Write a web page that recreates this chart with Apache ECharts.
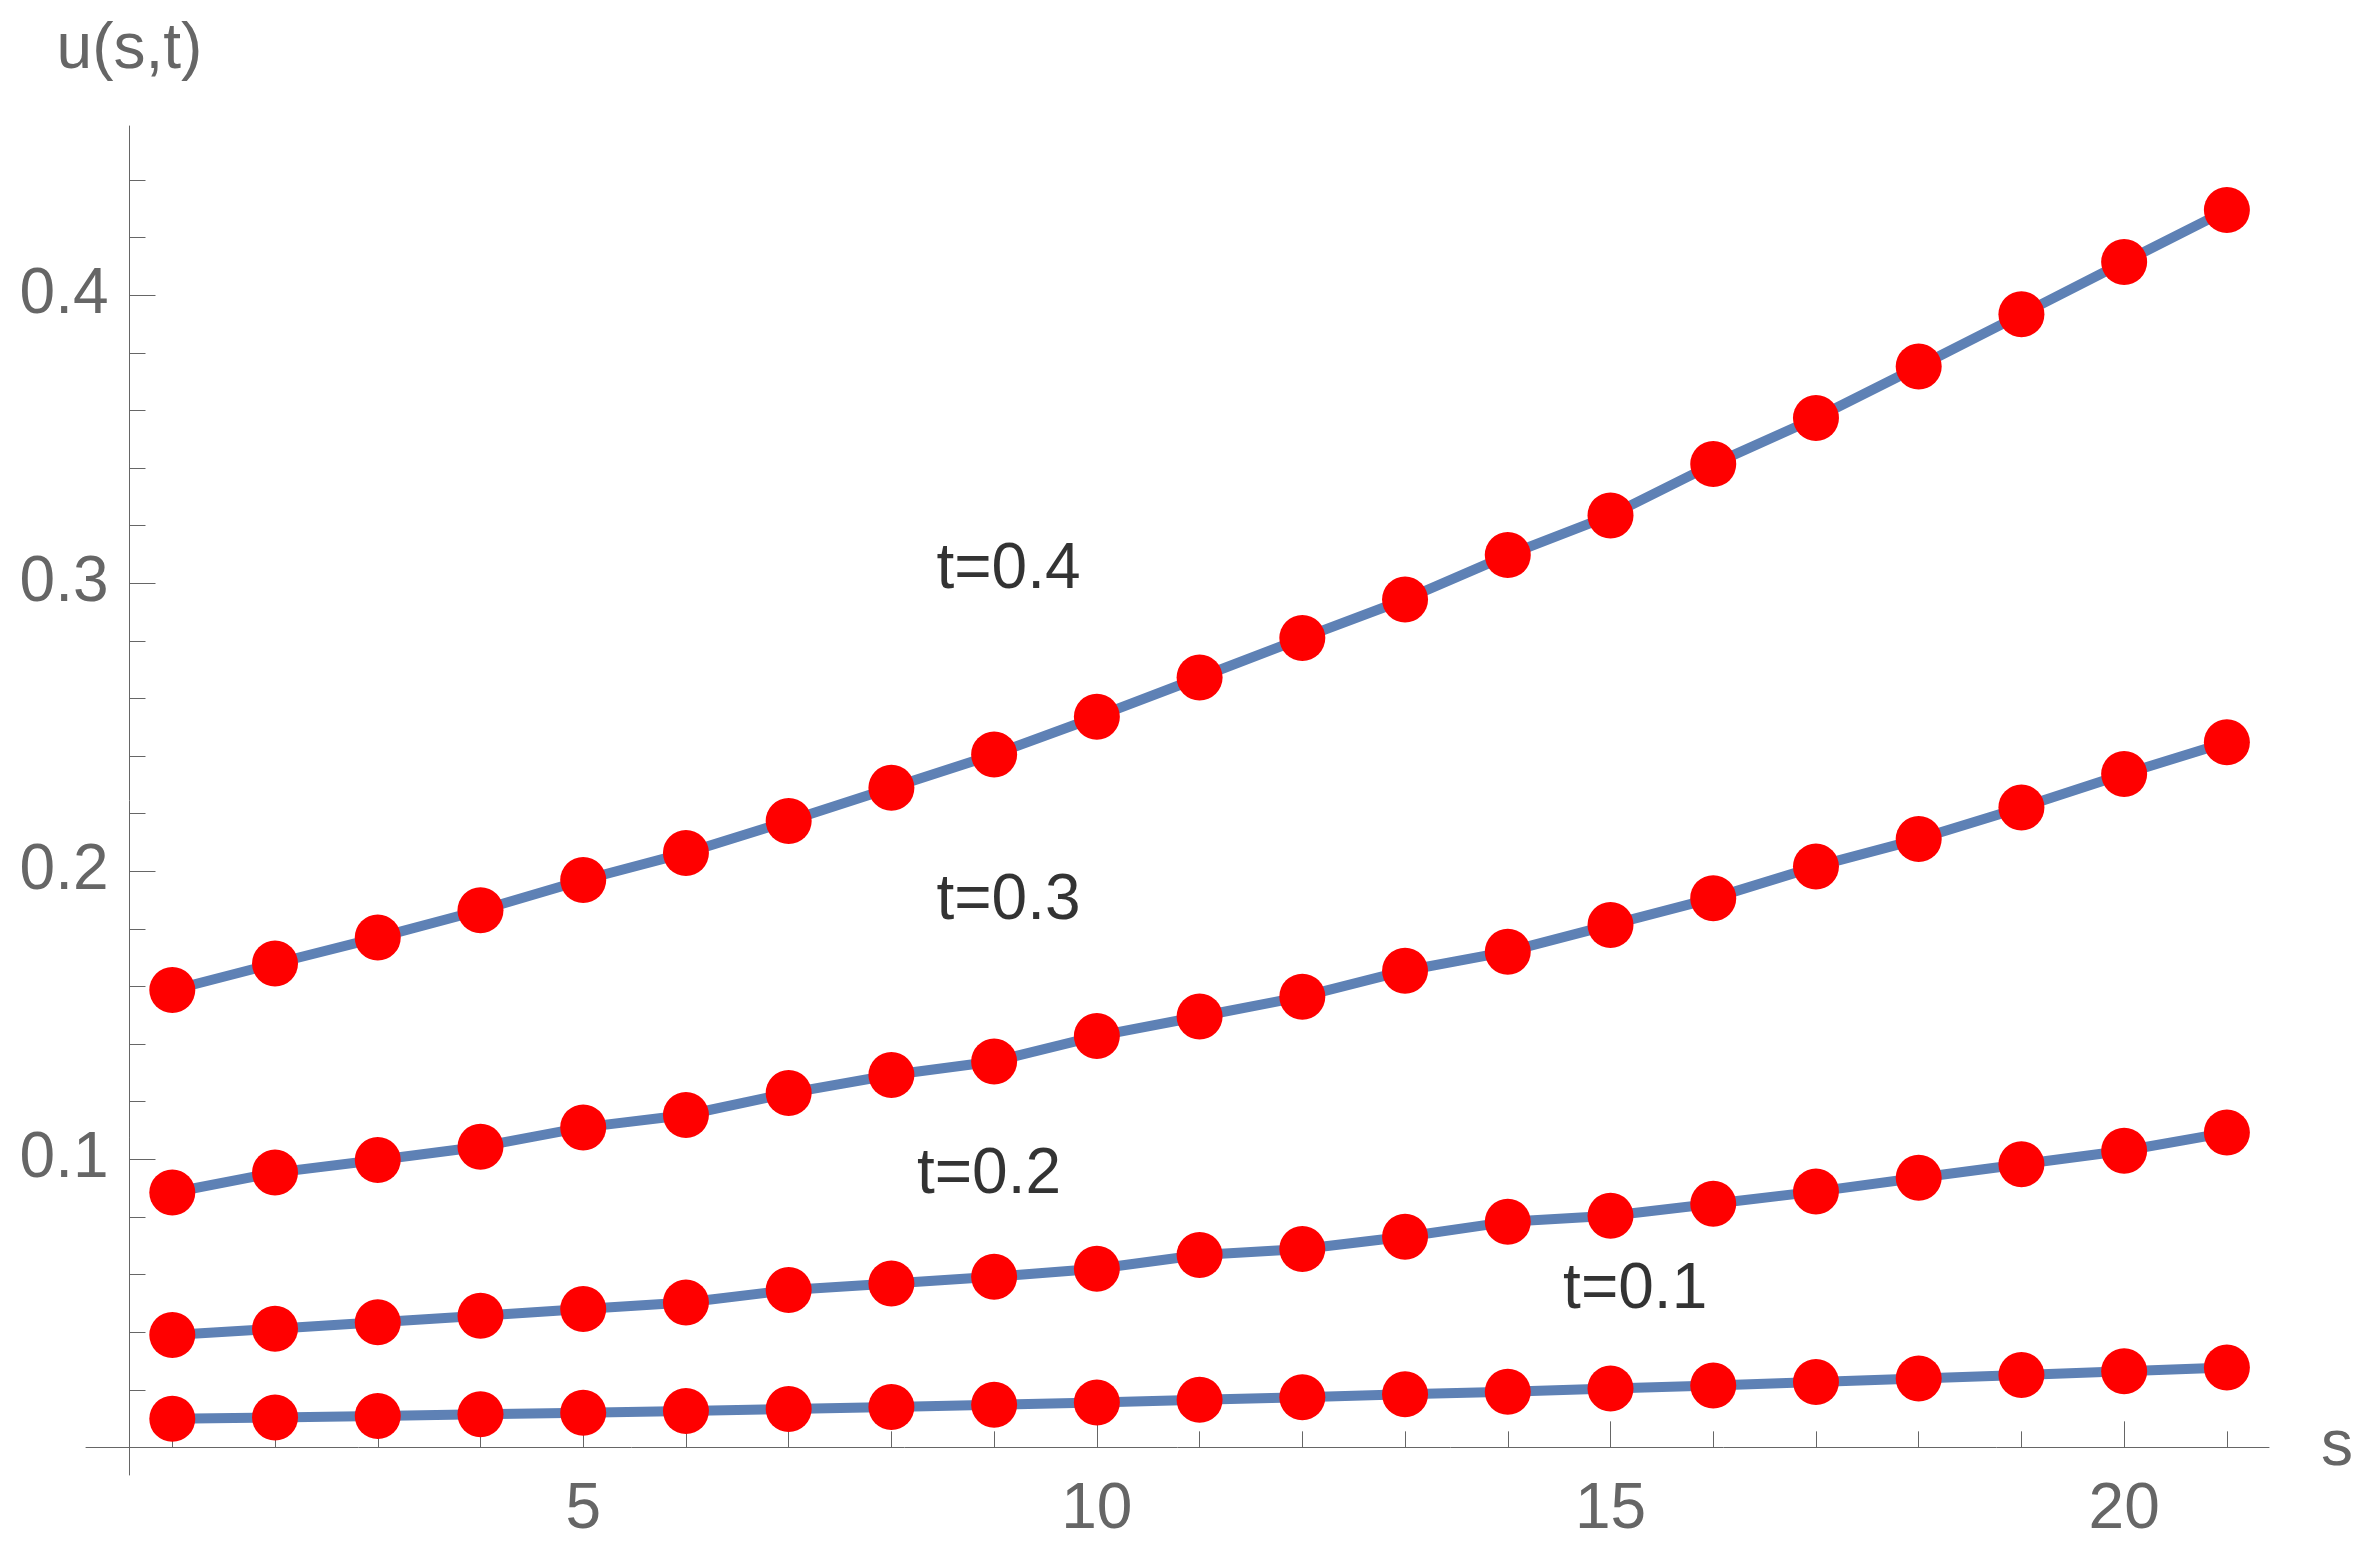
<!DOCTYPE html>
<html>
<head>
<meta charset="utf-8">
<script src="https://cdn.jsdelivr.net/npm/echarts@6/dist/echarts.min.js"></script>
<style>
  html, body { margin: 0; padding: 0; background: #ffffff; }
  #chart { width: 2371px; height: 1560px; }
</style>
</head>
<body>
<div id="chart"></div>
<script>
// ---- data ----
const sValues = [1, 2, 3, 4, 5, 6, 7, 8, 9, 10, 11, 12, 13, 14, 15, 16, 17, 18, 19, 20, 21];
const u_t01 = [0.0099, 0.0104, 0.0109, 0.0115, 0.0120, 0.0126, 0.0133, 0.0140, 0.0148, 0.0156, 0.0165,
               0.0174, 0.0184, 0.0193, 0.0204, 0.0215, 0.0227, 0.0239, 0.0251, 0.0264, 0.0277];
const u_t02 = [0.0390, 0.0412, 0.0434, 0.0457, 0.0480, 0.0503, 0.0546, 0.0569, 0.0592, 0.0620, 0.0668,
               0.0689, 0.0731, 0.0783, 0.0804, 0.0846, 0.0888, 0.0936, 0.0983, 0.1030, 0.1093];
const u_t03 = [0.0885, 0.0954, 0.0998, 0.1044, 0.1111, 0.1154, 0.1230, 0.1293, 0.1340, 0.1428, 0.1496,
               0.1565, 0.1655, 0.1721, 0.1814, 0.1907, 0.2017, 0.2112, 0.2222, 0.2338, 0.2448];
const u_t04 = [0.1588, 0.1680, 0.1770, 0.1865, 0.1970, 0.2064, 0.2175, 0.2290, 0.2406, 0.2537, 0.2673,
               0.2810, 0.2944, 0.3098, 0.3236, 0.3414, 0.3574, 0.3753, 0.3934, 0.4116, 0.4296];

const xMajorTicks = [5, 10, 15, 20];
const xMinorTicks = [1, 2, 3, 4, 5, 6, 7, 8, 9, 10, 11, 12, 13, 14, 15, 16, 17, 18, 19, 20, 21];
const yMajorTicks = [0.1, 0.2, 0.3, 0.4];
const yMinorTicks = [0.02, 0.04, 0.06, 0.08, 0.12, 0.14, 0.16, 0.18, 0.22, 0.24, 0.26, 0.28,
                     0.32, 0.34, 0.36, 0.38, 0.42, 0.44];

const curveLabels = ['t=0.1', 't=0.2', 't=0.3', 't=0.4'];
const curveLabelS = [15.24, 8.95, 9.14, 9.14];
const curveLabelU = [0.0562, 0.0963, 0.1912, 0.3064];

const xName = 's';
const yName = 'u(s,t)';

// ---- chart ----
const X_MIN = 0.16, X_MAX = 21.41;
const Y_MIN = -0.0096, Y_MAX = 0.4588;
const AXIS_COLOR = '#666666';
const FONT = '"Liberation Sans", Arial, sans-serif';
const LINE_COLOR = '#5E81B5';
const DOT_COLOR = '#FF0000';

const curves = [u_t01, u_t02, u_t03, u_t04];

const series = [];
curves.forEach(function (arr) {
  series.push({
    type: 'line',
    data: sValues.map(function (s, i) { return [s, arr[i]]; }),
    showSymbol: false,
    symbol: 'none',
    lineStyle: { color: LINE_COLOR, width: 10 },
    z: 2,
    silent: true
  });
});
curves.forEach(function (arr) {
  series.push({
    type: 'scatter',
    data: sValues.map(function (s, i) { return [s, arr[i]]; }),
    symbol: 'circle',
    symbolSize: 46,
    itemStyle: { color: DOT_COLOR, opacity: 1 },
    z: 3,
    silent: true
  });
});
series.push({
  type: 'scatter',
  data: curveLabels.map(function (t, i) {
    return { value: [curveLabelS[i], curveLabelU[i]], name: t };
  }),
  symbol: 'circle',
  symbolSize: 1,
  itemStyle: { color: 'rgba(0,0,0,0)' },
  label: {
    show: true,
    position: 'inside',
    offset: [0, 5],
    formatter: function (p) { return p.name; },
    color: '#000000',
    fontSize: 64,
    fontFamily: FONT
  },
  z: 4,
  silent: true
});

function baseX(extra) {
  return Object.assign({
    type: 'value',
    min: X_MIN,
    max: X_MAX,
    gridIndex: 0,
    position: 'bottom',
    splitLine: { show: false },
    minorTick: { show: false },
    minorSplitLine: { show: false }
  }, extra);
}
function baseY(extra) {
  return Object.assign({
    type: 'value',
    min: Y_MIN,
    max: Y_MAX,
    gridIndex: 0,
    position: 'left',
    offset: -43.5,
    splitLine: { show: false },
    minorTick: { show: false },
    minorSplitLine: { show: false }
  }, extra);
}

const option = {
  animation: false,
  backgroundColor: '#ffffff',
  grid: { left: 86, right: 102, top: 126, bottom: 85, containLabel: false, outerBoundsMode: 'none' },
  xAxis: [
    baseX({
      name: xName,
      nameLocation: 'end',
      nameGap: 52,
      nameTextStyle: { color: AXIS_COLOR, fontSize: 64, fontFamily: FONT, padding: [40, 0, 0, 0] },
      axisLine: { show: true, onZero: true, onZeroAxisIndex: 0, lineStyle: { color: AXIS_COLOR, width: 1 } },
      axisTick: { show: true, inside: true, length: 26, customValues: xMajorTicks, lineStyle: { color: AXIS_COLOR, width: 1 } },
      axisLabel: { show: true, customValues: xMajorTicks, margin: 3, color: AXIS_COLOR, fontSize: 64, fontFamily: FONT }
    }),
    baseX({
      axisLine: { show: false, onZero: true, onZeroAxisIndex: 0 },
      axisTick: { show: true, inside: true, length: 16, customValues: xMinorTicks, lineStyle: { color: AXIS_COLOR, width: 1 } },
      axisLabel: { show: false }
    })
  ],
  yAxis: [
    baseY({
      name: yName,
      nameLocation: 'end',
      nameGap: 44,
      nameTextStyle: { color: AXIS_COLOR, fontSize: 64, fontFamily: FONT, align: 'center' },
      axisLine: { show: true, onZero: false, lineStyle: { color: AXIS_COLOR, width: 1 } },
      axisTick: { show: true, inside: true, length: 26, customValues: yMajorTicks, lineStyle: { color: AXIS_COLOR, width: 1 } },
      axisLabel: {
        show: true, customValues: yMajorTicks, margin: 21, color: AXIS_COLOR, fontSize: 64, fontFamily: FONT,
        formatter: function (v) { return v.toFixed(1); }
      }
    }),
    baseY({
      axisLine: { show: false, onZero: false },
      axisTick: { show: true, inside: true, length: 16, customValues: yMinorTicks, lineStyle: { color: AXIS_COLOR, width: 1 } },
      axisLabel: { show: false }
    })
  ],
  series: series
};

const chart = echarts.init(document.getElementById('chart'), null, { renderer: 'canvas' });
chart.setOption(option);
</script>
</body>
</html>
